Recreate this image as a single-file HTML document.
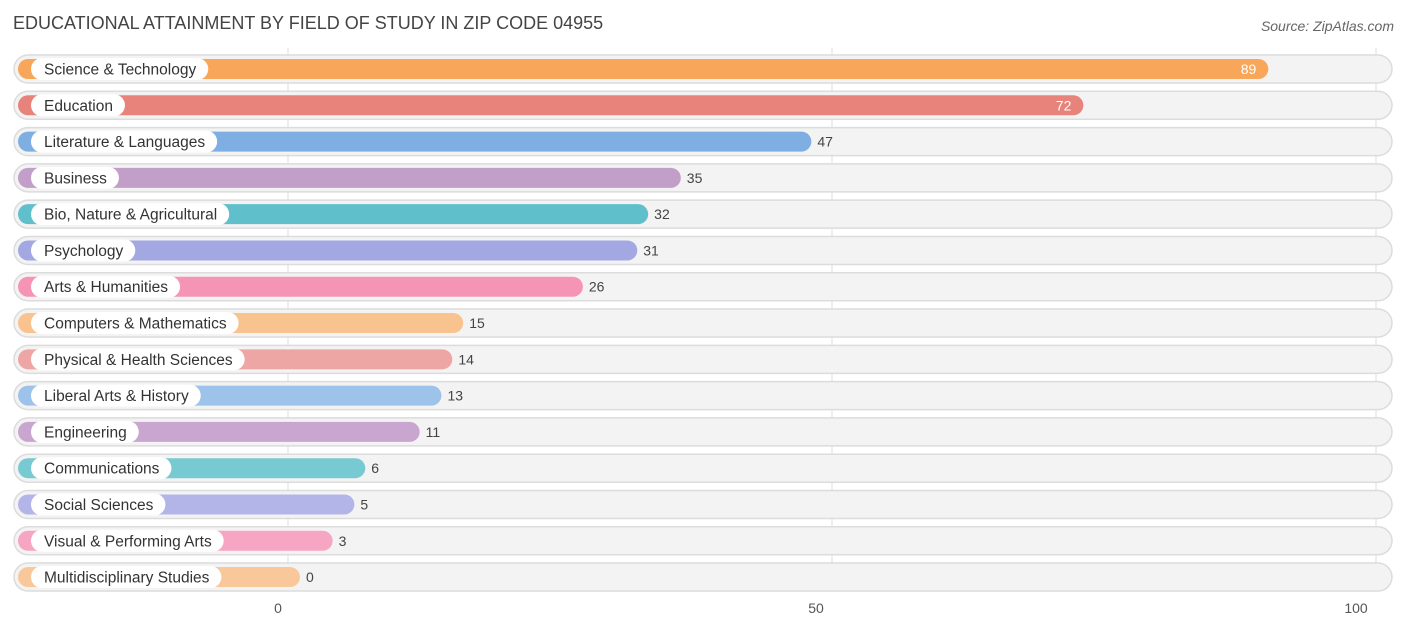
<!DOCTYPE html>
<html><head><meta charset="utf-8"><style>
body{margin:0;background:#fff;font-family:"Liberation Sans",sans-serif;}
svg{display:block}
</style></head><body>
<svg id="chart" width="1406" height="632">
<text x="13" y="29" font-size="18" fill="#444">EDUCATIONAL ATTAINMENT BY FIELD OF STUDY IN ZIP CODE 04955</text>
<text x="1394" y="31" font-size="14" fill="#666" font-style="italic" text-anchor="end">Source: ZipAtlas.com</text>
<g id="grid"></g><g id="rows"></g><g id="ticks"></g>
</svg>
<script>
const categories=["Science & Technology","Education","Literature & Languages","Business","Bio, Nature & Agricultural","Psychology","Arts & Humanities","Computers & Mathematics","Physical & Health Sciences","Liberal Arts & History","Engineering","Communications","Social Sciences","Visual & Performing Arts","Multidisciplinary Studies"];
const values=[89,72,47,35,32,31,26,15,14,13,11,6,5,3,0];
const colors=["#f7a65a","#e8837c","#7eaee2","#c19fc9","#5fbfcb","#a3a8e3","#f594b5","#f9c38f","#eea6a4","#9ec3ea","#c9a6cf","#77c9d2","#b3b5e8","#f6a6c2","#f9c89a"];
const tickValues=[0,50,100];
const ns="http://www.w3.org/2000/svg";
const x0=288,x100=1376;
const xs=v=>x0+(x100-x0)*v/100;
const ys=i=>69+i*36.29;
function mk(tag,attrs,parent){const e=document.createElementNS(ns,tag);for(const k in attrs)e.setAttribute(k,attrs[k]);parent.appendChild(e);return e;}
const grid=document.getElementById('grid'),rows=document.getElementById('rows'),ticks=document.getElementById('ticks');
tickValues.forEach(t=>{
 const l=mk('line',{x1:xs(t),x2:xs(t),y1:48,y2:592,stroke:'#ddd','stroke-width':1},grid);
 
 
 const tx=mk('text',{x:xs(t)-(t===0?10:t===50?16:20),y:613,'font-size':14,fill:'#555','text-anchor':'middle'},ticks);
 tx.textContent=t;
 
 
});
categories.forEach((c,i)=>{
 const y=ys(i);
 const g=mk('g',{},rows);
 
 
 const bg=mk('rect',{x:14,y:y-14,width:1378,height:28,rx:14,fill:'#f3f3f3',stroke:'#dcdcdc','stroke-width':1.5},g);
 
 
 const end=xs(values[i])+12;
 const bar=mk('rect',{x:18,y:y-10,width:end-18,height:20,rx:10,fill:colors[i]},g);
 
 
 const pill=mk('rect',{x:31,y:y-11,width:100,height:22,rx:11,fill:'#fff'},g);
 
 
 const lt=mk('text',{x:44,y:y+5.5,'font-size':15.5,fill:'#333'},g);
 lt.textContent=c;
 
 
 pill.setAttribute('width',lt.getComputedTextLength()+25);
 const inside=values[i]>60;
 const vt=mk('text',{x:inside?end-12:end+6,y:y+5,'font-size':14,fill:inside?'#fff':'#444','text-anchor':inside?'end':'start'},g);
 vt.textContent=values[i];
 
 
});
</script>
</body></html>
